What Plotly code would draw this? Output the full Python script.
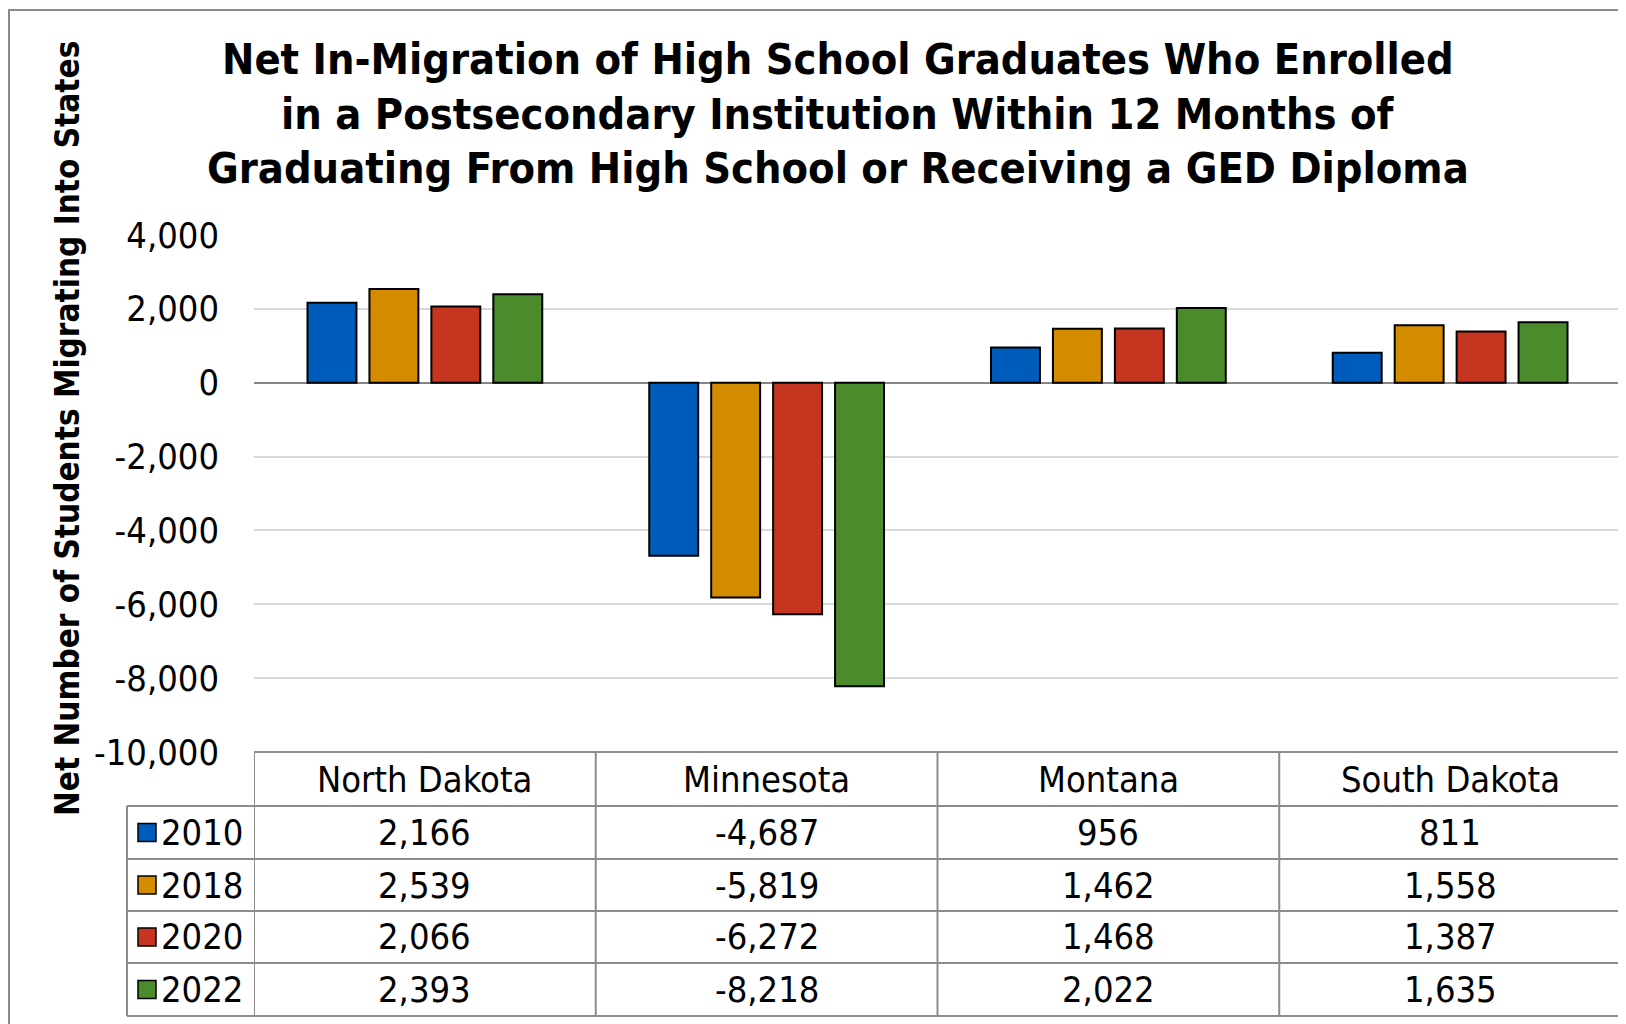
import plotly.graph_objects as go

# data
states = ["North Dakota", "Minnesota", "Montana", "South Dakota"]
years = ["2010", "2018", "2020", "2022"]
v2010 = [2166, -4687, 956, 811]
v2018 = [2539, -5819, 1462, 1558]
v2020 = [2066, -6272, 1468, 1387]
v2022 = [2393, -8218, 2022, 1635]
tick_vals = [4000, 2000, 0, -2000, -4000, -6000, -8000, -10000]

series = [v2010, v2018, v2020, v2022]
colors = ["#005CBA", "#D38B00", "#C5351F", "#4B8B2B"]

# page geometry (pixels, page coordinates); the html body adds an 8px margin
PAGE_W, PAGE_H = 1626, 1024
OFF = 8
L, R, T, B = 254, 1621, 235, 752
PW, PH = R - L, B - T


def px(x):
    return (x - L) / PW


def py(y):
    return (B - y) / PH


FONT = "DejaVu Sans Condensed"
GRAY = "#8C8C8C"

fig = go.Figure()
for name, vals, col in zip(years, series, colors):
    fig.add_trace(
        go.Bar(
            x=states,
            y=vals,
            name=name,
            marker=dict(color=col, line=dict(color="#000000", width=2)),
            showlegend=False,
            hoverinfo="x+y+name",
        )
    )

shapes = []
annotations = []

# outer chart border (right and bottom edges fall off the page)
shapes.append(dict(type="rect", xref="paper", yref="paper",
                   x0=px(9), x1=px(1660), y0=py(10), y1=py(1060),
                   line=dict(color="#8A8A8A", width=2), layer="below"))

# title, one annotation per line
title_lines = [
    "Net In-Migration of High School Graduates Who Enrolled",
    "in a Postsecondary Institution Within 12 Months of",
    "Graduating From High School or Receiving a GED Diploma",
]
for i, line in enumerate(title_lines):
    annotations.append(dict(text=f"<b>{line}</b>", xref="paper", yref="paper",
                            x=px(838), y=py(59 + 54.5 * i), showarrow=False,
                            xanchor="center", yanchor="middle",
                            font=dict(family=FONT, size=43, color="#000000")))

# y axis title
annotations.append(dict(text="<b>Net Number of Students Migrating Into States</b>",
                        xref="paper", yref="paper", x=px(67), y=py(429),
                        textangle=-90, showarrow=False, xanchor="center", yanchor="middle",
                        font=dict(family=FONT, size=33, color="#000000")))

# data table below the plot
row_edges = [752, 806, 859, 911, 963, 1016]
leg_left = 127

# horizontal lines
shapes.append(dict(type="line", xref="paper", yref="paper", x0=0, x1=1,
                   y0=py(row_edges[0]), y1=py(row_edges[0]), line=dict(color=GRAY, width=2)))
for ye in row_edges[1:]:
    shapes.append(dict(type="line", xref="paper", yref="paper", x0=px(leg_left), x1=1,
                       y0=py(ye), y1=py(ye), line=dict(color=GRAY, width=2)))
# vertical lines
shapes.append(dict(type="line", xref="paper", yref="paper", x0=px(leg_left), x1=px(leg_left),
                   y0=py(row_edges[1]), y1=py(row_edges[-1]), line=dict(color=GRAY, width=2)))
for k in range(len(states) + 1):
    shapes.append(dict(type="line", xref="x", yref="paper", x0=k - 0.5, x1=k - 0.5,
                       y0=py(row_edges[0]), y1=py(row_edges[-1]), line=dict(color=GRAY, width=2)))

# header row
for s in states:
    annotations.append(dict(text=s, xref="x", yref="paper", x=s,
                            y=py((row_edges[0] + row_edges[1]) / 2), showarrow=False,
                            xanchor="center", yanchor="middle",
                            font=dict(family=FONT, size=36, color="#000000")))

# data rows
for r, (name, vals, col) in enumerate(zip(years, series, colors)):
    yc = (row_edges[r + 1] + row_edges[r + 2]) / 2
    shapes.append(dict(type="rect", xref="paper", yref="paper",
                       x0=px(138), x1=px(156), y0=py(yc - 9), y1=py(yc + 9),
                       fillcolor=col, line=dict(color="#000000", width=1.5)))
    annotations.append(dict(text=name, xref="paper", yref="paper", x=px(245), y=py(yc),
                            showarrow=False, xanchor="right", yanchor="middle",
                            font=dict(family=FONT, size=36, color="#000000")))
    for s, v in zip(states, vals):
        annotations.append(dict(text=f"{v:,}", xref="x", yref="paper", x=s, y=py(yc),
                                showarrow=False, xanchor="center", yanchor="middle",
                                font=dict(family=FONT, size=36, color="#000000")))

fig.update_layout(
    width=PAGE_W - OFF,
    height=PAGE_H - OFF,
    margin=dict(l=L - OFF, r=PAGE_W - R, t=T - OFF, b=PAGE_H - B, pad=0),
    paper_bgcolor="white",
    plot_bgcolor="white",
    barmode="group",
    bargap=0.275,
    bargroupgap=0.21,
    shapes=shapes,
    annotations=annotations,
    xaxis=dict(type="category", range=[-0.5, 3.5], showticklabels=False,
               showgrid=False, zeroline=False, showline=False, fixedrange=True),
    yaxis=dict(range=[-10000, 4000], tickvals=tick_vals,
               ticktext=[f"{v:,}" for v in tick_vals],
               tickfont=dict(family=FONT, size=36, color="#000000"),
               ticklabelstandoff=34,
               showgrid=True, gridcolor="#D9D9D9", gridwidth=2,
               zeroline=True, zerolinecolor="#868686", zerolinewidth=2,
               showline=False, ticks=""),
)

fig.write_html("out.html")
